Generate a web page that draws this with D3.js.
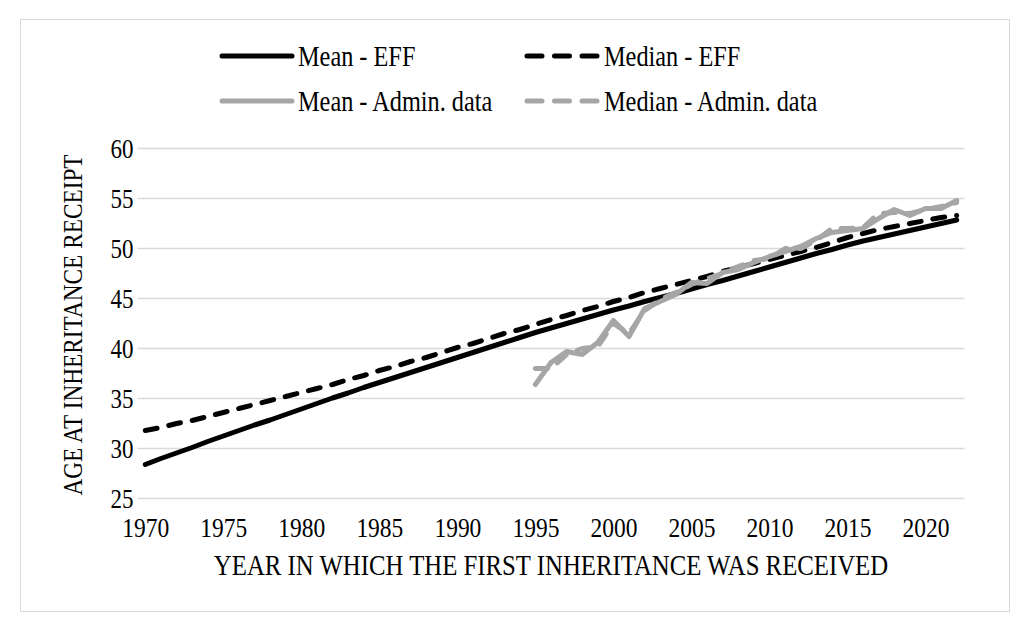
<!DOCTYPE html>
<html>
<head>
<meta charset="utf-8">
<script src="https://cdn.jsdelivr.net/npm/d3@7"></script>
<style>
  html, body { margin: 0; padding: 0; background: #fff; }
  svg text { font-family: "Liberation Serif", "Times New Roman", serif; fill: #000; }
</style>
</head>
<body>
<svg id="chart" width="1030" height="624"></svg>
<script>
const years = d3.range(1970, 2023);
const yTicks = [25, 30, 35, 40, 45, 50, 55, 60];
const xTickLabels = [1970, 1975, 1980, 1985, 1990, 1995, 2000, 2005, 2010, 2015, 2020];

const meanEFF = [28.4, 29.0, 29.55, 30.1, 30.7, 31.25, 31.8, 32.35, 32.85, 33.4,
  33.95, 34.5, 35.05, 35.55, 36.1, 36.6, 37.1, 37.6, 38.1, 38.6,
  39.1, 39.6, 40.1, 40.6, 41.1, 41.6, 42.05, 42.5, 42.95, 43.4,
  43.85, 44.25, 44.7, 45.1, 45.5, 45.95, 46.4, 46.8, 47.25, 47.7,
  48.15, 48.6, 49.05, 49.5, 49.9, 50.35, 50.75, 51.1, 51.45, 51.8,
  52.15, 52.5, 52.85];
const medianEFF = [31.8, 32.1, 32.5, 32.8, 33.2, 33.6, 34.0, 34.4, 34.8, 35.2,
  35.6, 36.0, 36.4, 36.9, 37.3, 37.8, 38.2, 38.7, 39.1, 39.6,
  40.1, 40.5, 41.0, 41.5, 41.9, 42.4, 42.9, 43.3, 43.8, 44.2,
  44.7, 45.1, 45.6, 46.0, 46.4, 46.8, 47.2, 47.7, 48.1, 48.5,
  48.9, 49.3, 49.7, 50.1, 50.6, 51.1, 51.5, 51.9, 52.2, 52.5,
  52.8, 53.1, 53.3];
const adminYears = d3.range(1995, 2023);
const meanAdmin = [36.4, 38.6, 39.7, 39.4, 40.6, 42.8, 41.2, 44.0, 44.7, 45.4,
  46.6, 46.5, 47.6, 47.9, 48.6, 49.2, 49.7, 50.2, 51.0, 51.6,
  51.8, 52.0, 53.0, 53.9, 53.3, 54.0, 54.0, 54.8];
const medianAdmin = [38.0, 38.0, 39.4, 40.0, 40.2, 42.5, 41.5, 43.8, 44.9, 45.6,
  46.4, 47.0, 47.5, 48.2, 48.8, 49.0, 50.0, 50.0, 50.8, 52.0,
  52.0, 52.1, 53.5, 53.6, 53.5, 53.9, 54.2, 54.6];

const legendItems = [
  { name: "Mean - EFF", color: "#000000", dash: null },
  { name: "Median - EFF", color: "#000000", dash: "12,12" },
  { name: "Mean - Admin. data", color: "#a6a6a6", dash: null },
  { name: "Median - Admin. data", color: "#a6a6a6", dash: "12,12" }
];

const svg = d3.select("#chart");
const SY = 1.2; // vertical stretch of the reference text

// outer frame
svg.append("rect").attr("x", 20.5).attr("y", 19.5).attr("width", 989).attr("height", 592)
  .attr("fill", "#fff").attr("stroke", "#d9d9d9").attr("stroke-width", 1);

const plot = { left: 137.5, right: 964.5, top: 148.5, bottom: 498.5 };

const x = d3.scalePoint().domain(years).range([plot.left, plot.right]).padding(0.5);
const y = d3.scaleLinear().domain([25, 60]).range([plot.bottom, plot.top]);

// gridlines
svg.append("g").selectAll("line").data(yTicks).join("line")
  .attr("x1", plot.left).attr("x2", plot.right)
  .attr("y1", d => y(d)).attr("y2", d => y(d))
  .attr("stroke", "#d9d9d9").attr("stroke-width", 1.5);

// y axis labels
const yAxis = d3.axisLeft(y).tickValues(yTicks).tickSize(0).tickPadding(0);
const gy = svg.append("g").attr("transform", `translate(${plot.left - 4},0)`).call(yAxis);
gy.select(".domain").remove();
gy.selectAll("text").attr("font-size", 23).attr("font-family", "Liberation Serif").attr("fill", "#000")
  .attr("x", 0).attr("y", 0).attr("dy", "0.34em").attr("transform", `scale(1,${SY})`);

// x axis labels
const xAxis = d3.axisBottom(x).tickValues(xTickLabels).tickSize(0).tickPadding(0);
const gx = svg.append("g").attr("transform", `translate(0,${plot.bottom})`).call(xAxis);
gx.select(".domain").remove();
gx.selectAll("text").attr("font-size", 23.5).attr("font-family", "Liberation Serif").attr("fill", "#000")
  .attr("y", 0).attr("dy", "0.34em").attr("transform", `translate(0,29) scale(1,${SY})`);

// axis titles
svg.append("text").attr("transform", `translate(551,565) scale(1,${SY})`)
  .attr("dy", "0.34em").attr("text-anchor", "middle").attr("font-size", 24.8)
  .text("YEAR IN WHICH THE FIRST INHERITANCE WAS RECEIVED");
svg.append("text").attr("transform", `translate(72,325) rotate(-90) scale(1,${SY})`)
  .attr("dy", "0.34em").attr("text-anchor", "middle").attr("font-size", 23.3)
  .text("AGE AT INHERITANCE RECEIPT");

// lines
const line = d3.line().x(d => x(d[0])).y(d => y(d[1]));
const series = [
  { data: d3.zip(years, meanEFF), item: legendItems[0] },
  { data: d3.zip(years, medianEFF), item: legendItems[1] },
  { data: d3.zip(adminYears, meanAdmin), item: legendItems[2] },
  { data: d3.zip(adminYears, medianAdmin), item: legendItems[3] }
];
svg.append("g").selectAll("path").data(series).join("path")
  .attr("d", d => line(d.data))
  .attr("fill", "none")
  .attr("stroke", d => d.item.color)
  .attr("stroke-width", 5)
  .attr("stroke-linecap", "round")
  .attr("stroke-linejoin", "round")
  .attr("stroke-dasharray", d => d.item.dash);

// legend
const legendPos = [[222, 56], [527, 56], [222, 101], [527, 101]];
const lg = svg.append("g").selectAll("g").data(legendItems).join("g")
  .attr("transform", (d, i) => `translate(${legendPos[i][0]},${legendPos[i][1]})`);
lg.append("line").attr("x1", 0).attr("x2", 70).attr("y1", 0).attr("y2", 0)
  .attr("stroke", d => d.color).attr("stroke-width", 5)
  .attr("stroke-linecap", "round").attr("stroke-dasharray", d => d.dash ? "15,12.5" : null);
lg.append("text").attr("transform", d => `translate(${d.dash ? 77 : 76},0) scale(1,${SY})`)
  .attr("dy", "0.34em").attr("font-size", 24.3).text(d => d.name);
</script>
</body>
</html>
